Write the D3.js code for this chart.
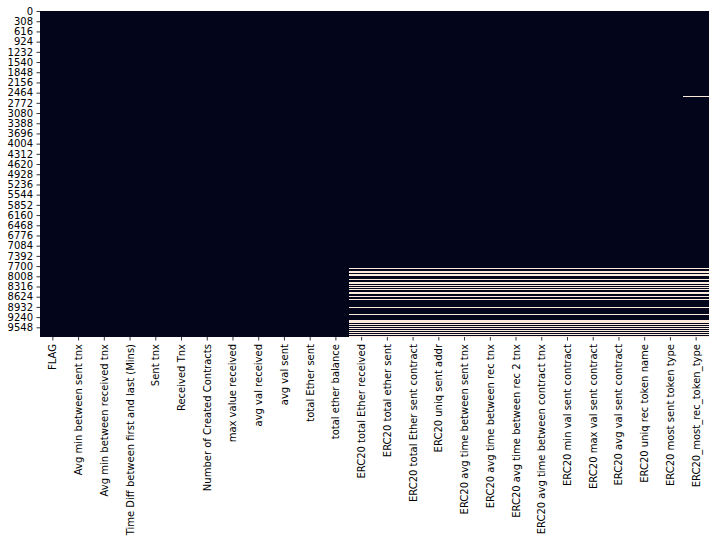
<!DOCTYPE html>
<html>
<head>
<meta charset="utf-8">
<script src="https://cdn.jsdelivr.net/npm/d3@7"></script>
<style>
  html, body { margin: 0; padding: 0; background: #ffffff; }
  svg { display: block; }
  text { font-family: "DejaVu Sans", sans-serif; font-size: 10px; fill: #000; }
</style>
</head>
<body>
<svg id="chart" width="716" height="544"></svg>
<script>
// ---- data ----
const columns = [
  "FLAG",
  "Avg min between sent tnx",
  "Avg min between received tnx",
  "Time Diff between first and last (Mins)",
  "Sent tnx",
  "Received Tnx",
  "Number of Created Contracts",
  "max value received ",
  "avg val received",
  "avg val sent",
  "total Ether sent",
  "total ether balance",
  " ERC20 total Ether received",
  " ERC20 total ether sent",
  " ERC20 total Ether sent contract",
  " ERC20 uniq sent addr",
  " ERC20 avg time between sent tnx",
  " ERC20 avg time between rec tnx",
  " ERC20 avg time between rec 2 tnx",
  " ERC20 avg time between contract tnx",
  " ERC20 min val sent contract",
  " ERC20 max val sent contract",
  " ERC20 avg val sent contract",
  " ERC20 uniq rec token name",
  " ERC20 most sent token type",
  " ERC20_most_rec_token_type"
];
const rowCount = 9841;
const rowTickStep = 308;

// columns (by index) that contain missing values
const erc20Columns = [12,13,14,15,16,17,18,19,20,21,22,23,24,25];
// missing row ranges [start, end) shared by the ERC20 columns
const erc20MissingRows = [
  [7759, 7789], [7849, 7894], [7940, 7985], [8091, 8121], [8182, 8227],
  [8272, 8302], [8332, 8363], [8393, 8423], [8483, 8529], [8604, 8634],
  [8695, 8725], [8936, 8966], [9148, 9178], [9329, 9374], [9389, 9419],
  [9450, 9480], [9510, 9540], [9570, 9601], [9631, 9661], [9691, 9721],
  [9752, 9782], [9812, 9841]
];
// extra missing rows only in the last column
const recTokenExtraMissing = [[2566, 2596]];

// ---- build cells ----
const missingCells = [];
erc20Columns.forEach(ci => {
  erc20MissingRows.forEach(([s, e]) => missingCells.push({col: columns[ci], s, e}));
});
recTokenExtraMissing.forEach(([s, e]) => missingCells.push({col: columns[25], s, e}));

// ---- draw ----
const svg = d3.select("#chart");
const mLeft = 40, mRight = 709, mTop = 11, mBottom = 337;

const x = d3.scaleBand().domain(columns).range([mLeft, mRight]).paddingInner(0).paddingOuter(0);
const y = d3.scaleLinear().domain([0, rowCount]).range([mTop, mBottom]);

const dark = "#03051a", light = "#faebdd";
const px0 = d => Math.round(x(d));
const pxW = d => Math.round(x(d) + x.bandwidth()) - Math.round(x(d));

// present (non-missing) background for each column
svg.append("g").attr("shape-rendering", "crispEdges")
  .selectAll("rect").data(columns).join("rect")
  .attr("x", d => px0(d))
  .attr("y", Math.round(y(0)))
  .attr("width", d => pxW(d))
  .attr("height", Math.round(y(rowCount)) - Math.round(y(0)))
  .attr("fill", dark);

// missing cells
svg.append("g").attr("shape-rendering", "crispEdges")
  .selectAll("rect").data(missingCells).join("rect")
  .attr("x", d => px0(d.col))
  .attr("y", d => Math.round(y(d.s)))
  .attr("width", d => pxW(d.col))
  .attr("height", d => Math.max(1, Math.round(y(d.e)) - Math.round(y(d.s))))
  .attr("fill", light);

// y axis
const yTicks = d3.range(0, rowCount, rowTickStep);
const yAxis = d3.axisLeft(y)
  .tickValues(yTicks.map(v => v + 0.5))
  .tickFormat(v => String(Math.round(v - 0.5)))
  .tickSize(3.5).tickPadding(3.5);
const gy = svg.append("g").attr("transform", `translate(${mLeft},0)`).call(yAxis);
gy.select(".domain").remove();
gy.selectAll("line").attr("stroke", "#000").attr("stroke-width", 0.8);
gy.selectAll("text").attr("font-family", "DejaVu Sans").attr("font-size", 10).attr("fill", "#000");

// x axis
const xAxis = d3.axisBottom(x).tickSize(3.5).tickPadding(3.5);
const gx = svg.append("g").attr("transform", `translate(0,${mBottom})`).call(xAxis);
gx.select(".domain").remove();
gx.selectAll("line").attr("stroke", "#000").attr("stroke-width", 0.8);
gx.selectAll("text")
  .attr("font-family", "DejaVu Sans").attr("font-size", 10).attr("fill", "#000")
  .attr("text-anchor", "end")
  .attr("transform", "translate(0,7) rotate(-90)")
  .attr("x", 0).attr("y", 0).attr("dy", "0.35em")
  .text(d => d.trim());
</script>
</body>
</html>
